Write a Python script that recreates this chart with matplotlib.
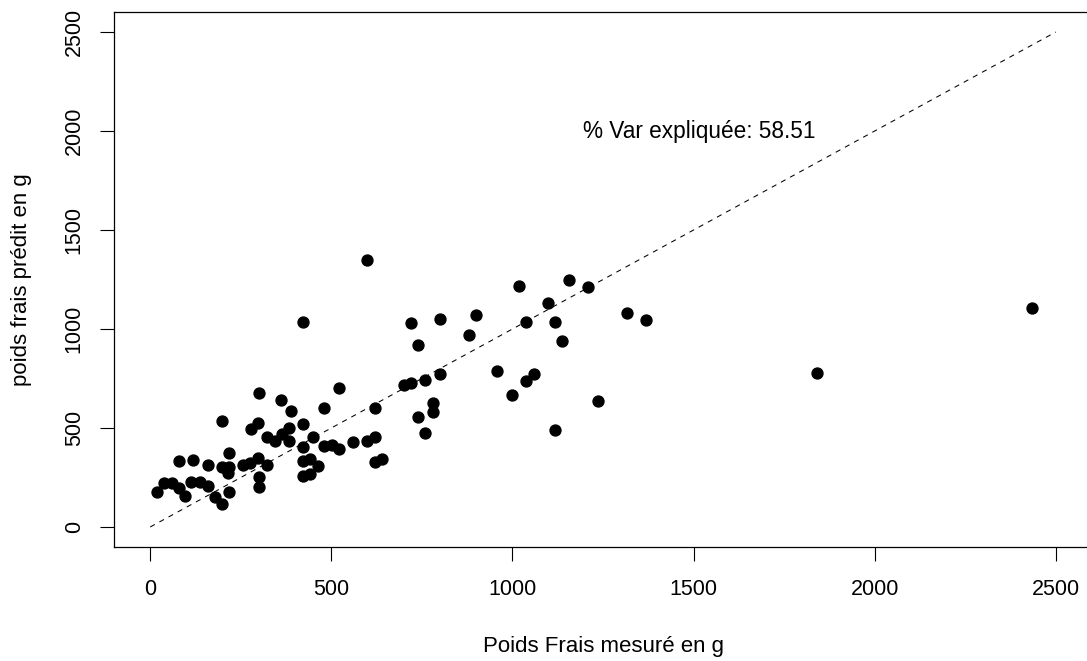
import matplotlib
matplotlib.use("Agg")
import matplotlib.pyplot as plt

# poids frais mesuré (g) / prédit (g)
mesure = [19, 39, 61, 80, 80, 97, 113, 119, 138, 160, 160, 179, 199, 199,
          199, 218, 215, 218, 218, 257, 276, 279, 298, 298, 301, 301, 301,
          323, 323, 345, 361, 364, 384, 384, 389, 422, 422, 422, 422, 422,
          441, 441, 450, 464, 480, 480, 502, 521, 521, 560, 599, 599, 621,
          621, 621, 640,
          701, 720, 720, 739, 739, 759, 759, 781, 781, 800, 800, 880, 899,
          957, 999, 1018, 1037, 1037, 1059, 1098, 1117, 1117, 1137, 1156,
          1208, 1236, 1316, 1369, 1840, 2433]
predit = [177, 222, 222, 333, 197, 157, 227, 338, 227, 207, 313, 152, 116,
          535, 303, 303, 273, 374, 177, 313, 323, 495, 525, 348, 677, 253,
          202, 455, 313, 434, 641, 470, 500, 434, 586, 1035, 520, 404, 333,
          258, 343, 268, 455, 308, 601, 409, 414, 394, 702, 429, 1348, 434,
          455, 601, 328, 343,
          717, 727, 1030, 919, 556, 742, 475, 626, 581, 1050, 773, 970, 1071,
          788, 667, 1217, 1035, 737, 773, 1131, 1035, 490, 939, 1247,
          1212, 636, 1081, 1045, 778, 1106]
ticks = [0, 500, 1000, 1500, 2000, 2500]
var_expliquee = 58.51


def main():
    plt.rcParams['font.family'] = ['Liberation Sans', 'DejaVu Sans']
    fig = plt.figure(figsize=(10.87, 6.61), dpi=100)
    ax = fig.add_axes([0.1049, 0.1728, 0.8997, 0.8087])

    ax.scatter(mesure, predit, s=62, color="black", zorder=3)
    ax.plot([0, 2500], [0, 2500], color="black", lw=0.75,
            linestyle=(0, (5, 5)))
    ax.text(1515, 2000, f"% Var expliquée: {var_expliquee}",
            ha="center", va="center", fontsize=16.3)

    ax.set_xlim(-100, 2600)
    ax.set_ylim(-100, 2600)
    ax.set_xticks(ticks)
    ax.set_yticks(ticks)
    ax.set_yticklabels([str(t) for t in ticks], rotation=90, va="center")
    ax.tick_params(direction="out", length=10, width=0.8, labelsize=15.5)
    ax.tick_params(axis="x", pad=13)
    ax.tick_params(axis="y", pad=11)
    ax.set_xlabel("Poids Frais mesuré en g", fontsize=16, labelpad=26)
    ax.set_ylabel("poids frais prédit en g", fontsize=16, labelpad=23)
    for s in ax.spines.values():
        s.set_linewidth(0.9)

    fig.savefig("out.png", dpi=100)


if __name__ == "__main__":
    main()
